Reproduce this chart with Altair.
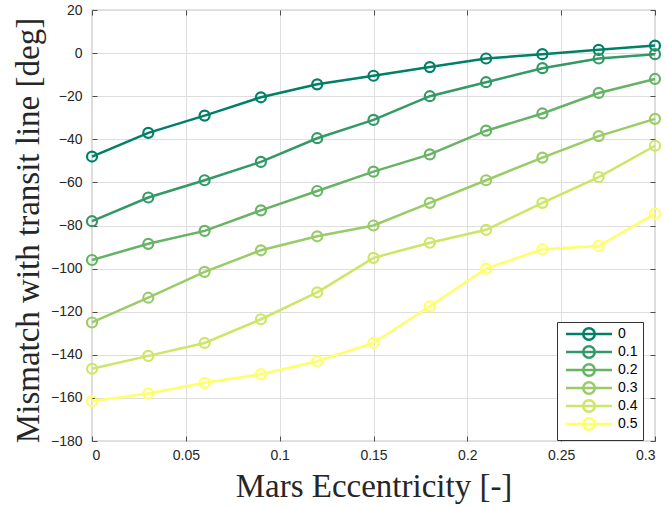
import altair as alt
import pandas as pd

ecc = [0, 0.03, 0.06, 0.09, 0.12, 0.15, 0.18, 0.21, 0.24, 0.27, 0.30]
series_names = ["0", "0.1", "0.2", "0.3", "0.4", "0.5"]
s0 = [-48, -37, -29, -20.5, -14.5, -10.5, -6.5, -2.5, -0.5, 1.5, 3.5]
s1 = [-78, -67, -59, -50.5, -39.5, -31, -20, -13.5, -7, -2.5, -0.5]
s2 = [-96, -88.5, -82.5, -73, -64, -55, -47, -36, -28, -18.5, -12]
s3 = [-125, -113.5, -101.5, -91.5, -85, -80, -69.5, -59, -48.5, -38.5, -30.5]
s4 = [-146.5, -140.5, -134.5, -123.5, -111, -95, -88, -82, -69.5, -57.5, -43]
s5 = [-161.5, -158, -153, -149, -143, -134.5, -117.5, -100, -91, -89.5, -74.5]
colors = ["#008066", "#339966", "#66b366", "#99cc66", "#cce666", "#ffff66"]
x_ticks = [0, 0.05, 0.1, 0.15, 0.2, 0.25, 0.3]
y_ticks = [20, 0, -20, -40, -60, -80, -100, -120, -140, -160, -180]

rows = []
for name, vals in zip(series_names, [s0, s1, s2, s3, s4, s5]):
    for i, (xv, yv) in enumerate(zip(ecc, vals)):
        rows.append({"ecc": xv, "mis": yv, "s": name, "order": i})
df = pd.DataFrame(rows)

legend_symbol = ("M-4.6,0L4.6,0M1.15,0A1.15,1.15 0 1 1 -1.15,0"
                 "A1.15,1.15 0 1 1 1.15,0")

color_scale = alt.Scale(domain=series_names, range=colors)
color = alt.Color(
    "s:N",
    scale=color_scale,
    legend=alt.Legend(
        title=None, orient="none", legendX=465, legendY=312,
        symbolType=legend_symbol, symbolSize=100, symbolStrokeWidth=2.5,
        symbolFillColor="transparent",
        labelFont="Liberation Sans", labelFontSize=14, labelColor="#000000",
        strokeColor="#333333", fillColor="white", padding=5,
        rowPadding=-6, labelOffset=22, symbolOffset=20,
    ),
)

tick_common = dict(ticks=True, tickSize=5, tickColor="#4d4d4d", tickWidth=1,
                   offset=-5, domain=False)

x = alt.X("ecc:Q", scale=alt.Scale(domain=[0, 0.3], nice=False),
          axis=alt.Axis(values=x_ticks, format="~g", title="Mars Eccentricity [-]",
                        titleFont="Liberation Serif", titleFontSize=33,
                        titleFontWeight="normal", titleColor="#262626",
                        titleY=67, titleBaseline="bottom",
                        labelFont="Liberation Sans", labelFontSize=14,
                        labelColor="#262626", labelPadding=7,
                        gridColor="#dedede", **tick_common))
y = alt.Y("mis:Q", scale=alt.Scale(domain=[-180, 20], nice=False),
          axis=alt.Axis(values=y_ticks, title="Mismatch with transit line [deg]",
                        titleFont="Liberation Serif", titleFontSize=33,
                        titleFontWeight="normal", titleColor="#262626",
                        titleX=-69, titleY=220, titleAlign="center",
                        titleBaseline="middle",
                        labelFont="Liberation Sans", labelFontSize=14,
                        labelColor="#262626", labelPadding=10,
                        gridColor="#dedede", **tick_common))

x_top = alt.X("ecc:Q", scale=alt.Scale(domain=[0, 0.3], nice=False),
              axis=alt.Axis(orient="top", values=x_ticks, labels=False, title=None,
                            grid=False, **tick_common))
y_right = alt.Y("mis:Q", scale=alt.Scale(domain=[-180, 20], nice=False),
                axis=alt.Axis(orient="right", values=y_ticks, labels=False, title=None,
                              grid=False, **tick_common))

base = alt.Chart(df)
lines = base.mark_line(strokeWidth=2.5).encode(x=x, y=y, color=color, order="order:Q")
pts = base.mark_point(filled=False, size=100, strokeWidth=2.2, opacity=1).encode(
    x=x_top, y=y_right, color=alt.Color("s:N", scale=color_scale, legend=None))

chart = alt.layer(lines, pts).resolve_scale(x="independent", y="independent").properties(
    width=563, height=431,
    autosize=alt.AutoSizeParams(type="none"),
    padding={"left": 92, "top": 10, "right": 11, "bottom": 68},
    background="white",
).configure_view(stroke="#8a8a8a", strokeWidth=1.2)

chart.save("out.html", embed_options={"renderer": "svg", "actions": False})
